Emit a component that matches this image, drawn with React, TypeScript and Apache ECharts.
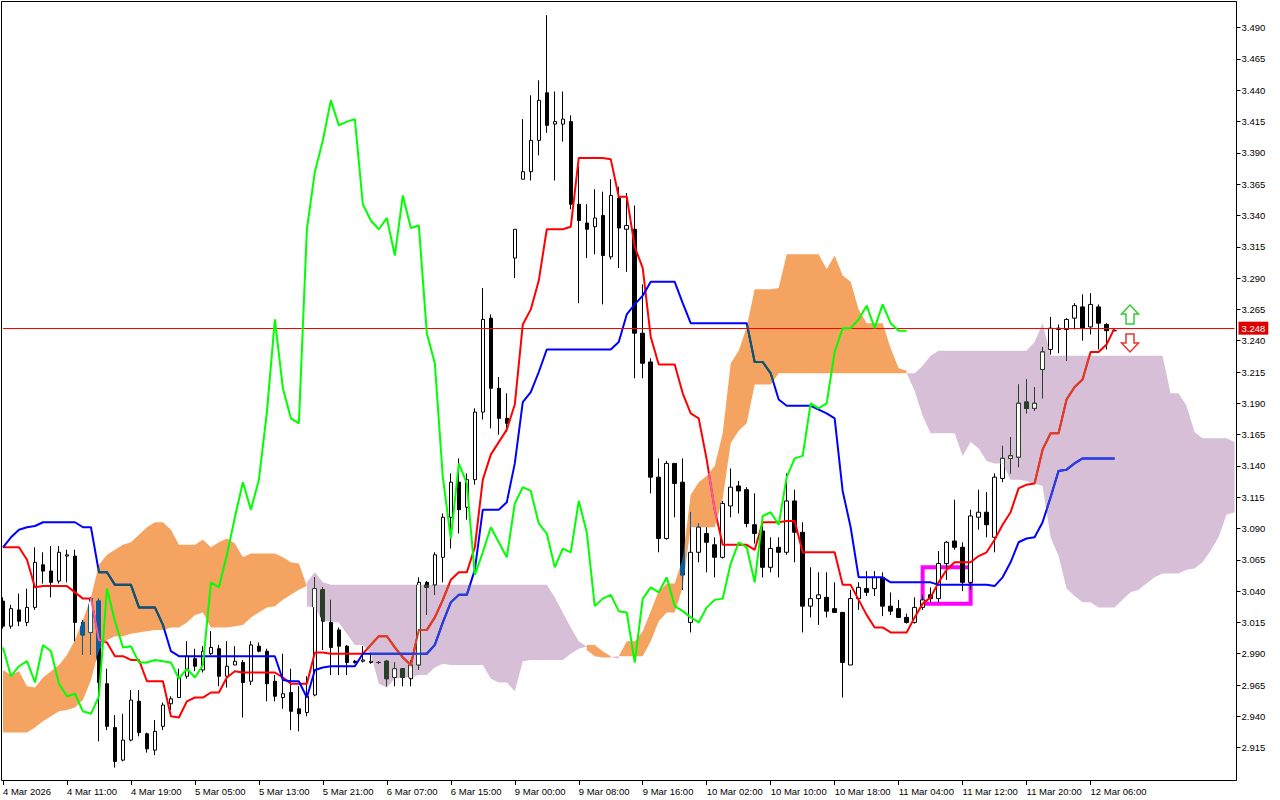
import React, { useEffect, useRef } from "react";
import * as echarts from "echarts";

// ---- tick labels ----
const timeLabels = [
  "4 Mar 2026", "4 Mar 11:00", "4 Mar 19:00", "5 Mar 05:00", "5 Mar 13:00", "5 Mar 21:00",
  "6 Mar 07:00", "6 Mar 15:00", "9 Mar 00:00", "9 Mar 08:00", "9 Mar 16:00", "10 Mar 02:00",
  "10 Mar 10:00", "10 Mar 18:00", "11 Mar 04:00", "11 Mar 12:00", "11 Mar 20:00", "12 Mar 06:00",
];
const priceTicks = [
  2.915, 2.94, 2.965, 2.99, 3.015, 3.04, 3.065, 3.09, 3.115, 3.14, 3.165, 3.19,
  3.215, 3.24, 3.265, 3.29, 3.315, 3.34, 3.365, 3.39, 3.415, 3.44, 3.465, 3.49,
];
const categoryCount = 155;
const bidPrice = 3.248;
const boxCorners = [[115, 3.059], [121, 3.030]];

// ---- candles (hourly) ----
const openP = [
  3.032, 3.012, 3.025, 3.015, 3.027, 3.061, 3.056, 3.048, 3.068, 3.068,
  3.015, 3.007, 3.032, 2.966, 2.931, 2.905, 2.921, 2.952, 2.926, 2.913,
  2.932, 2.950, 2.955, 2.972, 2.986, 2.977, 2.990, 2.994, 2.972, 2.981,
  2.983, 2.968, 2.996, 2.992, 2.968, 2.955, 2.959, 2.946, 2.943, 2.957,
  3.041, 3.015, 3.009, 2.996, 2.984, 2.984, 2.983, 2.983, 2.984, 2.971,
  2.978, 2.970, 2.981, 3.047, 3.045, 3.067, 3.099, 3.127, 3.107, 3.129,
  3.183, 3.258, 3.202, 3.178, 3.306, 3.369, 3.375, 3.400, 3.438, 3.413,
  3.413, 3.415, 3.349, 3.334, 3.331, 3.340, 3.307, 3.354, 3.329, 3.329,
  3.246, 3.223, 3.131, 3.082, 3.142, 3.127, 3.015, 3.071, 3.086, 3.077,
  3.067, 3.108, 3.124, 3.121, 3.093, 3.088, 3.059, 3.075, 3.071, 3.112,
  3.087, 3.028, 3.034, 3.035, 3.026, 3.023, 2.981, 3.034, 3.042, 3.042,
  3.051, 3.028, 3.026, 3.019, 3.015, 3.027, 3.037, 3.034, 3.062, 3.080,
  3.075, 3.047, 3.099, 3.103, 3.083, 3.130, 3.146, 3.147, 3.191, 3.186,
  3.217, 3.233, 3.249, 3.249, 3.258, 3.267, 3.251, 3.267, 3.253, 3.248,
];
const highP = [
  3.035, 3.029, 3.038, 3.042, 3.075, 3.071, 3.076, 3.076, 3.073, 3.073,
  3.017, 3.035, 3.034, 2.978, 2.941, 2.942, 2.961, 2.961, 2.927, 2.937,
  2.951, 2.956, 2.978, 3.000, 2.994, 2.996, 3.008, 2.997, 3.000, 2.996,
  2.985, 3.000, 2.999, 2.994, 2.973, 2.990, 2.978, 2.964, 2.972, 3.051,
  3.043, 3.033, 3.011, 2.997, 2.985, 2.996, 2.990, 2.984, 2.985, 2.983,
  2.978, 2.985, 3.051, 3.048, 3.071, 3.102, 3.134, 3.146, 3.134, 3.186,
  3.282, 3.261, 3.211, 3.198, 3.329, 3.417, 3.436, 3.448, 3.500, 3.439,
  3.439, 3.420, 3.379, 3.349, 3.361, 3.359, 3.369, 3.363, 3.358, 3.348,
  3.285, 3.226, 3.146, 3.144, 3.142, 3.146, 3.103, 3.094, 3.091, 3.083,
  3.112, 3.138, 3.128, 3.123, 3.118, 3.092, 3.083, 3.083, 3.134, 3.121,
  3.095, 3.059, 3.055, 3.055, 3.047, 3.023, 3.041, 3.047, 3.056, 3.056,
  3.055, 3.039, 3.033, 3.022, 3.035, 3.037, 3.043, 3.072, 3.080, 3.113,
  3.079, 3.105, 3.121, 3.119, 3.134, 3.156, 3.163, 3.205, 3.209, 3.203,
  3.235, 3.259, 3.253, 3.258, 3.270, 3.277, 3.278, 3.269, 3.254, 3.248,
];
const lowP = [
  3.010, 3.010, 3.012, 3.012, 3.025, 3.046, 3.035, 3.046, 3.047, 3.000,
  2.989, 2.989, 2.920, 2.929, 2.899, 2.904, 2.920, 2.924, 2.911, 2.909,
  2.929, 2.945, 2.955, 2.970, 2.976, 2.975, 2.989, 2.964, 2.963, 2.981,
  2.939, 2.965, 2.991, 2.952, 2.952, 2.946, 2.929, 2.928, 2.940, 2.956,
  2.993, 2.973, 2.973, 2.973, 2.982, 2.983, 2.982, 2.982, 2.964, 2.964,
  2.964, 2.964, 2.977, 3.021, 3.037, 3.047, 3.074, 3.086, 3.097, 3.125,
  3.177, 3.170, 3.165, 3.167, 3.290, 3.369, 3.368, 3.388, 3.406, 3.368,
  3.399, 3.345, 3.270, 3.306, 3.309, 3.269, 3.305, 3.298, 3.295, 3.210,
  3.210, 3.118, 3.071, 3.081, 3.099, 3.041, 3.007, 3.063, 3.055, 3.051,
  3.066, 3.099, 3.102, 3.091, 3.078, 3.051, 3.055, 3.051, 3.069, 3.063,
  3.007, 3.019, 3.013, 3.019, 3.023, 2.955, 2.981, 3.025, 3.036, 3.036,
  3.020, 3.021, 3.019, 3.014, 3.014, 3.025, 3.031, 3.031, 3.049, 3.073,
  3.040, 3.041, 3.089, 3.083, 3.071, 3.127, 3.134, 3.139, 3.182, 3.184,
  3.194, 3.229, 3.230, 3.224, 3.249, 3.240, 3.245, 3.233, 3.233, 3.248,
];
const closeP = [
  3.012, 3.026, 3.016, 3.027, 3.063, 3.056, 3.047, 3.071, 3.069, 3.015,
  3.005, 3.034, 2.967, 2.932, 2.904, 2.921, 2.953, 2.927, 2.914, 2.928,
  2.949, 2.954, 2.971, 2.988, 2.980, 2.992, 2.995, 2.972, 2.980, 2.984,
  2.967, 2.997, 2.992, 2.966, 2.956, 2.958, 2.944, 2.942, 2.956, 3.042,
  3.016, 2.995, 2.996, 2.983, 2.983, 2.985, 2.984, 2.983, 2.970, 2.978,
  2.971, 2.981, 3.047, 3.043, 3.069, 3.099, 3.127, 3.105, 3.129, 3.183,
  3.257, 3.202, 3.178, 3.174, 3.329, 3.375, 3.400, 3.432, 3.412, 3.415,
  3.417, 3.349, 3.336, 3.329, 3.338, 3.308, 3.356, 3.330, 3.332, 3.246,
  3.222, 3.131, 3.082, 3.142, 3.126, 3.053, 3.071, 3.091, 3.079, 3.067,
  3.110, 3.123, 3.120, 3.094, 3.086, 3.059, 3.074, 3.071, 3.112, 3.087,
  3.028, 3.034, 3.037, 3.024, 3.023, 2.983, 3.034, 3.043, 3.039, 3.051,
  3.028, 3.024, 3.019, 3.015, 3.027, 3.033, 3.034, 3.062, 3.079, 3.075,
  3.047, 3.100, 3.103, 3.093, 3.131, 3.146, 3.148, 3.190, 3.186, 3.190,
  3.231, 3.250, 3.250, 3.257, 3.268, 3.250, 3.269, 3.254, 3.248, 3.248,
];

// ---- Ichimoku lines ----
const tenkan = [
  3.075, 3.075, 3.075, 3.065, 3.043, 3.044, 3.044, 3.044, 3.044, 3.039,
  3.034, 3.034, 3.001, 2.999, 2.988, 2.988, 2.985, 2.985, 2.968, 2.968,
  2.968, 2.940, 2.939, 2.952, 2.955, 2.955, 2.959, 2.959, 2.971, 2.976,
  2.975, 2.975, 2.975, 2.975, 2.975, 2.971, 2.966, 2.966, 2.966, 2.991,
  2.991, 2.990, 2.990, 2.990, 2.990, 2.990, 2.997, 3.004, 3.004, 2.995,
  2.987, 2.981, 3.009, 3.009, 3.019, 3.033, 3.049, 3.055, 3.055, 3.075,
  3.129, 3.149, 3.159, 3.169, 3.189, 3.253, 3.265, 3.288, 3.329, 3.329,
  3.329, 3.331, 3.386, 3.386, 3.386, 3.386, 3.385, 3.355, 3.355, 3.315,
  3.298, 3.243, 3.221, 3.221, 3.221, 3.198, 3.182, 3.178, 3.145, 3.105,
  3.077, 3.077, 3.077, 3.077, 3.073, 3.095, 3.095, 3.095, 3.096, 3.096,
  3.071, 3.071, 3.071, 3.071, 3.071, 3.045, 3.045, 3.033, 3.021, 3.011,
  3.011, 3.007, 3.007, 3.007, 3.019, 3.030, 3.035, 3.047, 3.057, 3.063,
  3.063, 3.063, 3.068, 3.071, 3.081, 3.093, 3.103, 3.122, 3.125, 3.126,
  3.153, 3.166, 3.166, 3.193, 3.203, 3.209, 3.231, 3.231, 3.237, 3.250,
];
const kijun = [
  3.075, 3.083, 3.089, 3.091, 3.092, 3.095, 3.095, 3.095, 3.095, 3.095,
  3.091, 3.091, 3.055, 3.055, 3.045, 3.045, 3.045, 3.027, 3.027, 3.027,
  3.013, 2.992, 2.988, 2.988, 2.988, 2.988, 2.988, 2.988, 2.988, 2.988,
  2.988, 2.988, 2.988, 2.988, 2.988, 2.969, 2.968, 2.968, 2.955, 2.977,
  2.979, 2.980, 2.980, 2.980, 2.980, 2.990, 2.990, 2.990, 2.990, 2.990,
  2.990, 2.990, 2.990, 2.990, 2.997, 3.015, 3.031, 3.037, 3.037, 3.057,
  3.105, 3.105, 3.105, 3.111, 3.142, 3.191, 3.199, 3.215, 3.233, 3.233,
  3.233, 3.233, 3.233, 3.233, 3.233, 3.233, 3.233, 3.239, 3.261, 3.269,
  3.276, 3.287, 3.287, 3.287, 3.287, 3.270, 3.254, 3.254, 3.254, 3.254,
  3.254, 3.254, 3.254, 3.254, 3.223, 3.223, 3.214, 3.193, 3.188, 3.188,
  3.188, 3.188, 3.185, 3.182, 3.178, 3.120, 3.091, 3.051, 3.051, 3.051,
  3.051, 3.047, 3.047, 3.047, 3.047, 3.047, 3.047, 3.045, 3.045, 3.045,
  3.045, 3.045, 3.045, 3.045, 3.044, 3.051, 3.063, 3.079, 3.082, 3.083,
  3.095, 3.115, 3.136, 3.137, 3.142, 3.146, 3.146, 3.146, 3.146, 3.146,
];
const chikou = [
  2.995, 2.972, 2.980, 2.984, 2.967, 2.997, 2.992, 2.966, 2.956, 2.958,
  2.944, 2.942, 2.956, 3.042, 3.016, 2.995, 2.996, 2.983, 2.983, 2.985,
  2.984, 2.983, 2.970, 2.978, 2.971, 2.981, 3.047, 3.043, 3.069, 3.099,
  3.127, 3.105, 3.129, 3.183, 3.257, 3.202, 3.178, 3.174, 3.329, 3.375,
  3.400, 3.432, 3.412, 3.415, 3.417, 3.349, 3.336, 3.329, 3.338, 3.308,
  3.356, 3.330, 3.332, 3.246, 3.222, 3.131, 3.082, 3.142, 3.126, 3.053,
  3.071, 3.091, 3.079, 3.067, 3.110, 3.123, 3.120, 3.094, 3.086, 3.059,
  3.074, 3.071, 3.112, 3.087, 3.028, 3.034, 3.037, 3.024, 3.023, 2.983,
  3.034, 3.043, 3.039, 3.051, 3.028, 3.024, 3.019, 3.015, 3.027, 3.033,
  3.034, 3.062, 3.079, 3.075, 3.047, 3.100, 3.103, 3.093, 3.131, 3.146,
  3.148, 3.190, 3.186, 3.190, 3.231, 3.250, 3.250, 3.257, 3.268, 3.250,
  3.269, 3.254, 3.248, 3.248,
];
const spanA = [
  2.977, 2.973, 2.976, 2.964, 2.963, 2.971, 2.976, 2.981, 2.989, 3.001,
  3.017, 3.035, 3.061, 3.069, 3.073, 3.077, 3.079, 3.085, 3.091, 3.095,
  3.095, 3.089, 3.077, 3.077, 3.077, 3.081, 3.075, 3.079, 3.082, 3.078,
  3.067, 3.070, 3.070, 3.070, 3.070, 3.067, 3.063, 3.062, 3.028, 3.027,
  3.016, 3.016, 3.015, 3.006, 2.997, 2.997, 2.990, 2.966, 2.963, 2.970,
  2.971, 2.971, 2.973, 2.973, 2.979, 2.982, 2.981, 2.981, 2.981, 2.981,
  2.981, 2.970, 2.967, 2.967, 2.960, 2.984, 2.985, 2.985, 2.985, 2.985,
  2.985, 2.990, 2.994, 2.997, 2.997, 2.992, 2.988, 2.986, 3.000, 3.000,
  3.008, 3.024, 3.040, 3.046, 3.046, 3.066, 3.117, 3.127, 3.132, 3.140,
  3.166, 3.222, 3.232, 3.251, 3.281, 3.281, 3.281, 3.282, 3.309, 3.309,
  3.309, 3.309, 3.309, 3.297, 3.308, 3.292, 3.287, 3.265, 3.254, 3.254,
  3.254, 3.234, 3.218, 3.216, 3.200, 3.180, 3.166, 3.166, 3.166, 3.166,
  3.148, 3.159, 3.154, 3.144, 3.142, 3.142, 3.129, 3.129, 3.128, 3.126,
  3.124, 3.083, 3.068, 3.042, 3.036, 3.031, 3.031, 3.027, 3.027, 3.027,
  3.033, 3.039, 3.041, 3.046, 3.051, 3.054, 3.054, 3.054, 3.057, 3.058,
  3.063, 3.072, 3.083, 3.101, 3.103,
];
const spanB = [
  2.927, 2.927, 2.927, 2.927, 2.931, 2.936, 2.940, 2.944, 2.945, 2.947,
  2.953, 2.969, 2.993, 3.001, 3.004, 3.004, 3.006, 3.007, 3.008, 3.009,
  3.009, 3.011, 3.011, 3.015, 3.021, 3.023, 3.011, 3.011, 3.011, 3.012,
  3.013, 3.019, 3.023, 3.027, 3.028, 3.033, 3.037, 3.041, 3.047, 3.055,
  3.047, 3.045, 3.045, 3.045, 3.045, 3.045, 3.045, 3.045, 3.045, 3.045,
  3.045, 3.045, 3.045, 3.045, 3.045, 3.045, 3.045, 3.045, 3.045, 3.045,
  3.045, 3.045, 3.045, 3.045, 3.045, 3.045, 3.045, 3.045, 3.045, 3.035,
  3.023, 3.011, 3.000, 2.993, 2.988, 2.987, 2.987, 2.988, 2.988, 2.988,
  2.988, 3.000, 3.016, 3.023, 3.023, 3.043, 3.091, 3.091, 3.091, 3.091,
  3.114, 3.158, 3.168, 3.174, 3.205, 3.205, 3.205, 3.214, 3.214, 3.214,
  3.214, 3.214, 3.214, 3.214, 3.214, 3.214, 3.214, 3.214, 3.214, 3.214,
  3.214, 3.214, 3.214, 3.214, 3.214, 3.220, 3.228, 3.232, 3.232, 3.232,
  3.232, 3.232, 3.232, 3.232, 3.232, 3.232, 3.232, 3.232, 3.232, 3.239,
  3.254, 3.228, 3.228, 3.228, 3.228, 3.228, 3.228, 3.228, 3.228, 3.228,
  3.228, 3.228, 3.228, 3.228, 3.228, 3.228, 3.198, 3.198, 3.188, 3.167,
  3.162, 3.162, 3.162, 3.162, 3.159,
];

const FONT = "'Liberation Sans', Arial, sans-serif";
// cloud colours and how the chart's own colours look where they cross them
const CLOUD_UP = { fill: "#f4a460", black: "#0b5b9f", red: "#f45b9f", blue: "#0b5b60" };
const CLOUD_DOWN = { fill: "#d8bfd8", black: "#274027", red: "#d84027", blue: "#2740d8" };

type Region = { up: boolean; top: number[][]; bot: number[][] };

function buildRegions(a: number[], b: number[]): Region[] {
  const regions: Region[] = [];
  let cur: Region | null = null;
  for (let k = 0; k < a.length; k++) {
    const up = a[k] >= b[k];
    if (!cur) {
      cur = { up, top: [[k, a[k]]], bot: [[k, b[k]]] };
      continue;
    }
    if (up !== cur.up) {
      const d0 = a[k - 1] - b[k - 1];
      const d1 = a[k] - b[k];
      const t = d0 / (d0 - d1);
      const xc = k - 1 + t;
      const yc = a[k - 1] + t * (a[k] - a[k - 1]);
      cur.top.push([xc, yc]);
      cur.bot.push([xc, yc]);
      regions.push(cur);
      cur = { up, top: [[xc, yc], [k, a[k]]], bot: [[xc, yc], [k, b[k]]] };
    } else {
      cur.top.push([k, a[k]]);
      cur.bot.push([k, b[k]]);
    }
  }
  if (cur) regions.push(cur);
  return regions;
}

export default function App() {
  const ref = useRef<HTMLDivElement>(null);

  useEffect(() => {
    if (!ref.current) return;
    const chart = echarts.init(ref.current, null, { renderer: "svg" });

    const categories = Array.from({ length: categoryCount }, (_, i) => String(i));
    const candleData = openP.map((o, i) => [o, closeP[i], lowP[i], highP[i]]);
    const regions = buildRegions(spanA, spanB);
    const regionData = regions.map((r) => [r.top[0][0], r.top[0][1]]);

    const polyOf = (r: Region, api: any) =>
      [...r.top, ...r.bot.slice().reverse()].map((p) => api.coord(p));

    const showTick = (index: number) => index % 8 === 0 && index / 8 < timeLabels.length;

    const option: any = {
      animation: false,
      backgroundColor: "#ffffff",
      grid: { left: 2.5, right: 45.5, top: 2, bottom: 20, containLabel: false },
      xAxis: {
        type: "category",
        data: categories,
        boundaryGap: false,
        axisLine: { show: false },
        axisTick: { show: true, interval: showTick, length: 5, lineStyle: { color: "#000" } },
        axisLabel: {
          show: true,
          interval: showTick,
          align: "left",
          margin: 6,
          color: "#000",
          fontSize: 9.5,
          fontFamily: FONT,
          formatter: (v: string) => {
            const i = parseInt(v, 10);
            return i % 8 === 0 ? timeLabels[i / 8] || "" : "";
          },
        },
        splitLine: { show: false },
      },
      yAxis: {
        type: "value",
        position: "right",
        min: 2.88913,
        max: 3.51052,
        offset: 2,
        scale: true,
        axisLine: { show: true, lineStyle: { color: "#000" } },
        axisTick: { show: true, length: 4, customValues: priceTicks, lineStyle: { color: "#000" } },
        axisLabel: {
          show: true,
          customValues: priceTicks,
          margin: 5,
          color: "#000",
          fontSize: 9.5,
          fontFamily: FONT,
          formatter: (v: number) => v.toFixed(3),
        },
        splitLine: { show: false },
      },
      graphic: [
        {
          type: "rect",
          silent: true,
          z: 100,
          shape: { x: 1.5, y: 1.5, width: 1235, height: 779 },
          style: { fill: "none", stroke: "#000", lineWidth: 1 },
        },
        {
          type: "polygon",
          silent: true,
          z: 100,
          shape: {
            points: [[1130, 305], [1138.5, 314], [1134, 314], [1134, 324], [1126, 324], [1126, 314], [1121.5, 314]],
          },
          style: { fill: "#ffffff", stroke: "#33cc33", lineWidth: 1.5 },
        },
        {
          type: "polygon",
          silent: true,
          z: 100,
          shape: {
            points: [[1126, 334], [1134, 334], [1134, 343], [1138.5, 343], [1130, 352], [1121.5, 343], [1126, 343]],
          },
          style: { fill: "#ffffff", stroke: "#ee3333", lineWidth: 1.5 },
        },
      ],
      series: [
        {
          name: "Kumo",
          type: "custom",
          z: 1,
          silent: true,
          clip: true,
          data: regionData,
          renderItem: (params: any, api: any) => {
            const r = regions[params.dataIndex];
            return {
              type: "polygon",
              shape: { points: polyOf(r, api) },
              style: { fill: r.up ? CLOUD_UP.fill : CLOUD_DOWN.fill, stroke: null },
            };
          },
        },
        {
          name: "price",
          type: "candlestick",
          z: 2,
          silent: true,
          barWidth: 4,
          data: candleData,
          itemStyle: {
            color: "#ffffff",
            color0: "#000000",
            borderColor: "#000000",
            borderColor0: "#000000",
            borderColorDoji: "#000000",
            borderWidth: 1,
          },
        },
        {
          name: "Tenkan-sen",
          type: "line",
          z: 3,
          silent: true,
          data: tenkan,
          symbol: "none",
          lineStyle: { color: "#ff0000", width: 2 },
        },
        {
          name: "Kijun-sen",
          type: "line",
          z: 3,
          silent: true,
          data: kijun,
          symbol: "none",
          lineStyle: { color: "#0000ff", width: 2 },
        },
        {
          // candles and lines as they appear where they cross the cloud
          name: "Kumo tint",
          type: "custom",
          z: 4,
          silent: true,
          clip: true,
          data: regionData,
          renderItem: (params: any, api: any) => {
            const r = regions[params.dataIndex];
            const col = r.up ? CLOUD_UP : CLOUD_DOWN;
            const children: any[] = [];
            const k0 = Math.max(0, Math.floor(r.top[0][0]) - 1);
            const k1 = Math.min(openP.length - 1, Math.ceil(r.top[r.top.length - 1][0]) + 1);
            for (let k = k0; k <= k1; k++) {
              const xc = api.coord([k, openP[k]])[0];
              const xw = Math.round(xc - 0.5) + 0.5;
              const yH = api.coord([k, highP[k]])[1];
              const yL = api.coord([k, lowP[k]])[1];
              const yO = api.coord([k, openP[k]])[1];
              const yC = api.coord([k, closeP[k]])[1];
              const bull = closeP[k] > openP[k];
              const top = Math.min(yO, yC);
              const bot = Math.max(yO, yC);
              children.push({
                type: "line",
                shape: { x1: xw, y1: yH, x2: xw, y2: yL },
                style: { stroke: col.black, lineWidth: 1 },
              });
              children.push({
                type: "rect",
                shape: { x: xw - 2, y: top, width: 4, height: Math.max(bot - top, 0) },
                style: { fill: bull ? "#ffffff" : col.black, stroke: col.black, lineWidth: 1 },
              });
            }
            const tk: number[][] = [];
            const kj: number[][] = [];
            for (let k = k0; k <= k1; k++) {
              tk.push(api.coord([k, tenkan[k]]));
              kj.push(api.coord([k, kijun[k]]));
            }
            children.push({
              type: "polyline",
              shape: { points: tk },
              style: { stroke: col.red, lineWidth: 2, fill: null },
            });
            children.push({
              type: "polyline",
              shape: { points: kj },
              style: { stroke: col.blue, lineWidth: 2, fill: null },
            });
            return {
              type: "group",
              clipPath: { type: "polygon", shape: { points: polyOf(r, api) } },
              children,
            };
          },
        },
        {
          name: "Chikou Span",
          type: "line",
          z: 6,
          silent: true,
          data: chikou,
          symbol: "none",
          lineStyle: { color: "#00ff00", width: 2 },
          markLine: {
            silent: true,
            symbol: ["none", "none"],
            animation: false,
            data: [{ yAxis: bidPrice }],
            lineStyle: { color: "#ff0000", width: 1, type: "solid" },
            label: {
              show: true,
              position: "end",
              distance: 4,
              formatter: () => bidPrice.toFixed(3),
              color: "#ffffff",
              backgroundColor: "#dd0000",
              padding: [2, 3, 1, 3],
              fontSize: 9.5,
              fontFamily: FONT,
            },
          },
          markArea: {
            silent: true,
            data: [[{ coord: boxCorners[0] }, { coord: boxCorners[1] }]],
            itemStyle: { color: "rgba(0,0,0,0)", borderColor: "#ff00ff", borderWidth: 4 },
          },
        },
      ],
    };

    chart.setOption(option);

    return () => {
      chart.dispose();
    };
  }, []);

  return (
    <div
      ref={ref}
      style={{ position: "fixed", left: 0, top: 0, width: 1280, height: 800, background: "#ffffff" }}
    />
  );
}
